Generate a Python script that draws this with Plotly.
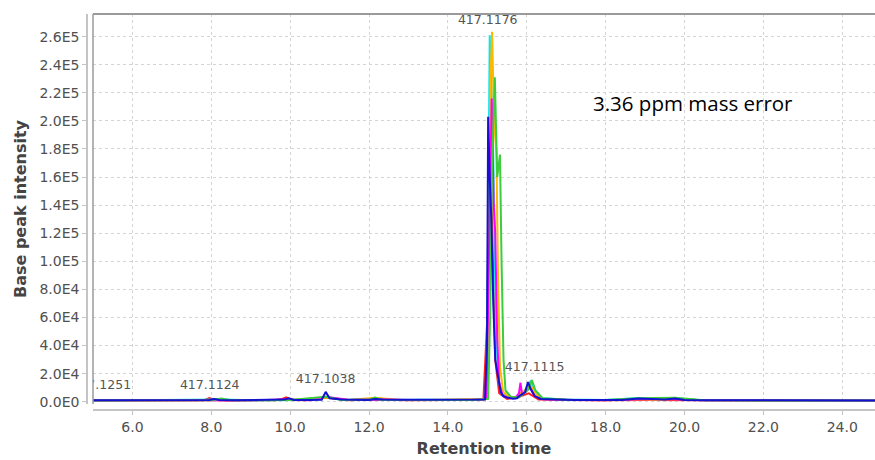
import plotly.graph_objects as go

# ---------------- data ----------------
red_t = [5.0, 6.0, 7.0, 7.8, 7.95, 8.1, 8.4, 9.0, 9.6, 9.8, 9.9, 10.05, 10.4, 10.9, 11.5, 12.1, 13.0, 14.0,
         14.9, 15.0, 15.05, 15.1, 15.15, 15.2, 15.3, 15.5, 15.8, 16.05, 16.3, 17.0, 18.0, 19.0, 20.0, 22.0, 24.9]
red_y = [800, 900, 850, 1000, 2600, 1200, 900, 950, 1100, 2000, 3200, 1300, 1000, 3000, 1100, 1600, 1000, 1200,
         1500, 60000, 190000, 150000, 90000, 30000, 6000, 2000, 3500, 6000, 1500, 1100, 1000, 1300, 1000, 900, 800]

cyan_t = [5.0, 6.0, 7.0, 8.0, 8.3, 9.0, 9.9, 10.4, 10.9, 11.4, 12.1, 12.6, 13.3, 14.0, 14.6, 14.97, 15.01, 15.06,
          15.1, 15.14, 15.18, 15.22, 15.28, 15.36, 15.5, 15.7, 15.84, 15.95, 16.1, 16.2, 16.4, 17.0, 18.0, 18.84,
          19.3, 19.76, 20.3, 21.0, 22.0, 23.0, 24.9]
cyan_y = [900, 1000, 950, 1100, 1500, 1000, 1400, 1200, 3500, 1300, 2000, 1300, 1400, 1500, 1400, 2000, 90000, 261000,
          215000, 190000, 120000, 50000, 16000, 6000, 3500, 2500, 6000, 8000, 15000, 8000, 2500, 1500, 1300, 2600,
          1500, 2500, 1400, 1100, 1000, 950, 900]

orange_t = [5.0, 6.0, 7.0, 8.0, 9.0, 10.0, 10.9, 11.5, 12.15, 12.8, 13.5, 14.0, 14.5, 14.99, 15.04, 15.08, 15.12,
            15.17, 15.23, 15.27, 15.32, 15.4, 15.55, 15.75, 15.85, 15.95, 16.1, 16.2, 16.4, 17.0, 18.0, 18.84, 19.3,
            19.76, 20.3, 21.0, 22.0, 24.9]
orange_y = [900, 950, 900, 1000, 1000, 1200, 3000, 1200, 2800, 1300, 1200, 1400, 1300, 2000, 110000, 230000, 263500,
            200000, 177000, 90000, 25000, 7000, 3500, 3000, 6500, 8000, 12000, 6000, 2000, 1300, 1100, 1800, 1300,
            2000, 1200, 1000, 900, 850]

magenta_t = [5.0, 6.0, 7.0, 8.0, 9.0, 9.9, 10.5, 10.9, 11.5, 12.1, 13.0, 14.0, 14.6, 14.98, 15.03, 15.07, 15.11,
             15.16, 15.2, 15.25, 15.3, 15.38, 15.5, 15.7, 15.8, 15.84, 15.88, 15.95, 16.08, 16.2, 16.4, 17.0, 18.0,
             18.84, 19.76, 20.5, 22.0, 24.9]
magenta_y = [850, 900, 900, 1100, 1000, 1600, 1100, 3500, 1200, 1800, 1200, 1300, 1300, 2000, 80000, 170000, 216000,
             142000, 120000, 45000, 14000, 5000, 3000, 2500, 6000, 13500, 5000, 6500, 10000, 4000, 1800, 1200, 1100,
             1800, 1800, 1100, 900, 850]

green_t = [5.0, 6.0, 7.0, 8.0, 8.25, 8.5, 9.0, 10.0, 10.9, 11.3, 12.0, 12.15, 12.3, 13.0, 14.0, 14.6, 15.02, 15.07,
           15.12, 15.19, 15.25, 15.32, 15.36, 15.41, 15.46, 15.6, 15.8, 15.95, 16.05, 16.13, 16.22, 16.4, 17.0, 18.0,
           18.84, 19.76, 20.5, 22.0, 24.9]
green_y = [900, 950, 1000, 1100, 2200, 1100, 1000, 1300, 3500, 1300, 1500, 3000, 1400, 1300, 1400, 1300, 2000, 60000,
           170000, 231000, 160000, 176000, 100000, 30000, 8000, 3500, 3000, 7000, 9000, 15500, 8000, 2500, 1400, 1200,
           2400, 2800, 1100, 950, 900]

blue_t = [5.0, 5.5, 6.0, 6.5, 7.0, 7.5, 7.95, 8.08, 8.2, 8.6, 9.0, 9.5, 9.85, 9.97, 10.1, 10.5, 10.8, 10.9, 11.0,
          11.3, 11.7, 12.0, 12.15, 12.35, 12.8, 13.3, 13.8, 14.3, 14.7, 14.94, 14.99, 15.02, 15.06, 15.1, 15.15,
          15.2, 15.27, 15.34, 15.4, 15.5, 15.65, 15.75, 15.83, 15.9, 15.96, 16.03, 16.1, 16.2, 16.35, 16.7, 17.2,
          17.8, 18.4, 18.84, 19.2, 19.5, 19.76, 20.0, 20.5, 21.5, 22.5, 23.5, 24.9]
blue_y = [1000, 1000, 1050, 1000, 1000, 1050, 1300, 2000, 1200, 1000, 1050, 1100, 1500, 2400, 1300, 1200, 1400, 7000,
          2500, 1600, 1400, 1300, 1900, 1500, 1400, 1300, 1400, 1300, 1400, 1500, 40000, 203000, 160000, 130000,
          70000, 30000, 18000, 7000, 4000, 3000, 2200, 2500, 4500, 5500, 7000, 14000, 9000, 4000, 2000, 1500, 1300,
          1200, 1300, 2200, 1600, 1500, 2200, 1300, 1100, 1000, 1000, 950, 950]

series = [
    ("red", red_t, red_y, "#ff2020"),
    ("cyan", cyan_t, cyan_y, "#00e8f0"),
    ("orange", orange_t, orange_y, "#ffb800"),
    ("magenta", magenta_t, magenta_y, "#ff00ff"),
    ("green", green_t, green_y, "#3ccc3c"),
    ("blue", blue_t, blue_y, "#1212d0"),
]

peak_label_x = [5.21, 7.96, 10.90, 15.01, 16.20]
peak_label_y = [11150, 11150, 15400, 271500, 23900]
peak_labels = ["417.1251", "417.1124", "417.1038", "417.1176", "417.1115"]

y_tick_vals = [0, 20000, 40000, 60000, 80000, 100000, 120000, 140000, 160000, 180000,
               200000, 220000, 240000, 260000]
y_tick_text = ["0.0E0", "2.0E4", "4.0E4", "6.0E4", "8.0E4", "1.0E5", "1.2E5", "1.4E5", "1.6E5", "1.8E5",
               "2.0E5", "2.2E5", "2.4E5", "2.6E5"]

# ---------------- figure ----------------
fig = go.Figure()
for name, t, y, c in series:
    fig.add_trace(go.Scatter(x=t, y=y, mode="lines", name=name,
                             line=dict(color=c, width=2), hoverinfo="skip"))

fig.add_trace(go.Scatter(x=peak_label_x, y=peak_label_y, mode="text", text=peak_labels,
                         textposition="middle center", cliponaxis=True,
                         textfont=dict(family="DejaVu Sans", size=12.5, color="#555555"),
                         hoverinfo="skip"))

fig.add_annotation(x=20.21, y=212900, xref="x", yref="y", text="3.36 ppm mass error",
                   showarrow=False, font=dict(family="Open Sans", size=20.5, color="#000000"))

grid_col = "#d4d4d4"
axis_col = "#c4c4c4"
tick_font = dict(family="DejaVu Sans", size=14, color="#505050")
title_font = dict(family="DejaVu Sans", size=16, color="#444444", weight="bold")

fig.update_layout(
    width=875, height=460,
    margin=dict(l=87, r=0, t=14, b=50),
    paper_bgcolor="white", plot_bgcolor="white",
    showlegend=False,
    hovermode=False,
    xaxis=dict(
        domain=[6 / 788, 1], range=[5.0, 24.83],
        anchor="free", position=0,
        tick0=6, dtick=2, tickformat=".1f",
        showgrid=True, gridcolor=grid_col, griddash="dot", gridwidth=1,
        zeroline=False, showline=True, linecolor=axis_col, linewidth=1.5,
        ticks="outside", ticklen=4, tickcolor=axis_col,
        tickfont=tick_font,
        title=dict(text="Retention time", font=title_font, standoff=8),
    ),
    yaxis=dict(
        domain=[6 / 396, 1], range=[-1630, 276130],
        anchor="free", position=0,
        tickvals=y_tick_vals, ticktext=y_tick_text,
        showgrid=True, gridcolor=grid_col, griddash="dot", gridwidth=1,
        zeroline=False, showline=True, linecolor=axis_col, linewidth=1.5,
        ticks="outside", ticklen=4, tickcolor=axis_col,
        tickfont=tick_font,
        title=dict(text="Base peak intensity", font=title_font, standoff=8),
    ),
    shapes=[
        dict(type="line", xref="x domain", yref="y domain", x0=0, x1=1, y0=1, y1=1,
             line=dict(color="#9a9a9a", width=2)),
        dict(type="line", xref="x domain", yref="y domain", x0=0, x1=0, y0=0, y1=1,
             line=dict(color="#9a9a9a", width=1.5)),
    ],
)

fig.write_html("out.html")
